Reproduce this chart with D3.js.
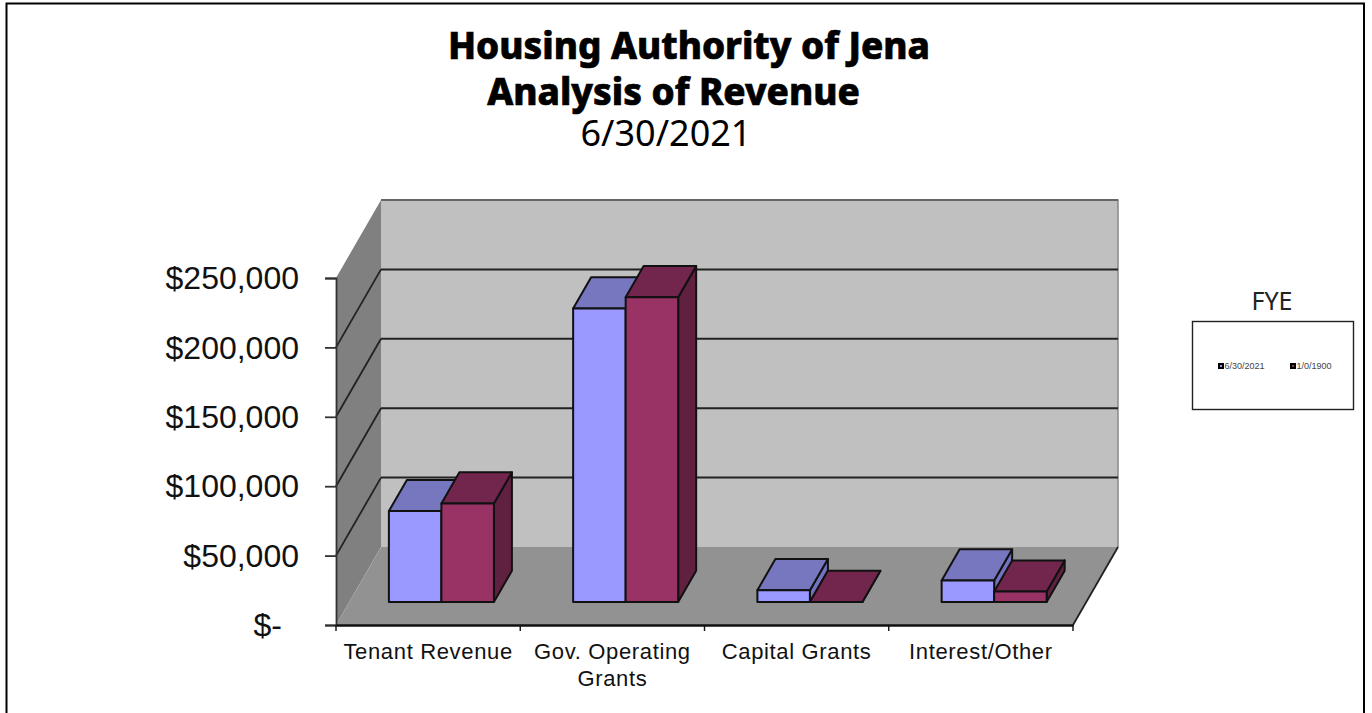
<!DOCTYPE html>
<html>
<head>
<meta charset="utf-8">
<script src="https://d3js.org/d3.v7.min.js"></script>
<style>
  body { margin: 0; background: #fff; }
  svg { display: block; }
  .title { font-family: "Noto Sans", sans-serif; text-anchor: middle; fill: #000; }
  .axis text { font-family: "Liberation Sans", Arial, sans-serif; fill: #111; }
</style>
</head>
<body>
<div id="chart"></div>
<script>
const categories = ['Tenant Revenue', 'Gov. Operating Grants', 'Capital Grants', 'Interest/Other'];
const seriesNames = ['6/30/2021', '1/0/1900'];
const fy2021 = [65500, 211500, 8500, 15500];
const fy1900 = [71000, 219500, 0, 7500];
const yTicks = [0, 50000, 100000, 150000, 200000, 250000];

const fronts = ['#9999ff', '#993366'];
const tops = ['#7777c0', '#73264d'];
const sides = ['#7272bf', '#60203f'];

const width = 1372, height = 713;
const plotLeft = 336, plotRight = 1073, plotBottom = 625, plotTop = 278;
// how far the back of the box is shifted from the front
const depthX = 45, depthY = -78;
const barFrom = 0.295, barTo = 0.695;

const svg = d3.select('#chart').append('svg')
    .attr('width', width)
    .attr('height', height);

// page border, there is none at the bottom
svg.append('path')
    .attr('d', 'M6.5,713V3.5H1364V713')
    .attr('fill', 'none')
    .attr('stroke', '#000')
    .attr('stroke-width', 2);

const xScale = d3.scaleBand().domain(categories).range([plotLeft, plotRight]);
const yScale = d3.scaleLinear().domain([0, 250000]).range([plotBottom, plotTop]);
const barScale = d3.scaleBand().domain(seriesNames)
    .range([xScale.bandwidth() * 0.215, xScale.bandwidth() * 0.785]);

const line = d3.line();
const poly = pts => line(pts) + 'Z';
const project = (x, y, d) => [x + depthX * d, y + depthY * d];

/* walls and floor ------------*/
const box = svg.append('g');
box.append('path')
    .attr('fill', '#c0c0c0')
    .attr('d', poly([project(plotLeft, plotTop, 1), project(plotRight, plotTop, 1), project(plotRight, plotBottom, 1), project(plotLeft, plotBottom, 1)]));
box.append('path')
    .attr('fill', '#808080')
    .attr('d', poly([project(plotLeft, plotTop, 0), project(plotLeft, plotTop, 1), project(plotLeft, plotBottom, 1), project(plotLeft, plotBottom, 0)]));
box.append('path')
    .attr('fill', '#929292')
    .attr('d', poly([project(plotLeft, plotBottom, 0), project(plotLeft, plotBottom, 1), project(plotRight, plotBottom, 1), project(plotRight, plotBottom, 0)]));
box.append('path')
    .attr('d', line([project(plotLeft, plotTop, 1), project(plotRight, plotTop, 1), project(plotRight, plotBottom, 1)]))
    .attr('fill', 'none')
    .attr('stroke', '#888')
    .attr('stroke-width', 1.5);

box.selectAll('.grid')
    .data(yTicks.slice(1))
    .join('path')
    .attr('class', 'grid')
    .attr('fill', 'none')
    .attr('stroke', d => d === 250000 ? '#666' : '#222')
    .attr('stroke-width', 2)
    .attr('d', d => line([project(plotLeft, yScale(d), 1), project(plotRight, yScale(d), 1)]));
box.selectAll('.diag')
    .data(yTicks.slice(1, -1))
    .join('path')
    .attr('class', 'diag')
    .attr('fill', 'none')
    .attr('stroke', '#222')
    .attr('stroke-width', 1.8)
    .attr('d', d => line([project(plotLeft, yScale(d), 0), project(plotLeft, yScale(d), 1)]));
box.append('path')
    .attr('d', line([project(plotRight, plotBottom, 0), project(plotRight, plotBottom, 1)]))
    .attr('fill', 'none')
    .attr('stroke', '#222')
    .attr('stroke-width', 1.8);

/* bars ------------*/
const barData = [];
categories.forEach((c, i) => {
    barData.push({ cat: c, s: 0, value: fy2021[i] });
    barData.push({ cat: c, s: 1, value: fy1900[i] });
});

const bars = svg.append('g')
    .attr('stroke', '#111')
    .attr('stroke-width', 2)
    .attr('stroke-linejoin', 'round')
    .selectAll('g')
    .data(barData)
    .join('g');

const bx0 = d => xScale(d.cat) + barScale(seriesNames[d.s]);
const bx1 = d => bx0(d) + barScale.bandwidth();

bars.append('path')
    .attr('fill', d => sides[d.s])
    .attr('d', d => poly([
        project(bx1(d), yScale(d.value), barFrom),
        project(bx1(d), yScale(d.value), barTo),
        project(bx1(d), yScale(0), barTo),
        project(bx1(d), yScale(0), barFrom)]));
bars.append('path')
    .attr('fill', d => tops[d.s])
    .attr('d', d => poly([
        project(bx0(d), yScale(d.value), barFrom),
        project(bx0(d), yScale(d.value), barTo),
        project(bx1(d), yScale(d.value), barTo),
        project(bx1(d), yScale(d.value), barFrom)]));
bars.append('path')
    .attr('fill', d => fronts[d.s])
    .attr('d', d => poly([
        project(bx0(d), yScale(d.value), barFrom),
        project(bx1(d), yScale(d.value), barFrom),
        project(bx1(d), yScale(0), barFrom),
        project(bx0(d), yScale(0), barFrom)]));

/* axes ------------*/
const money = d3.format(',');
const yAxis = d3.axisLeft(yScale)
    .tickValues(yTicks)
    .tickSize(11)
    .tickPadding(26)
    .tickFormat(d => d === 0 ? '$-' : '$' + money(d));
const yG = svg.append('g')
    .attr('class', 'axis')
    .attr('transform', `translate(${plotLeft},0)`)
    .call(yAxis);
yG.selectAll('text')
    .attr('font-size', 32)
    .attr('fill', '#111')
    .attr('y', 0.5)
    .attr('dx', d => d === 0 ? -17 : 0); // the zero label stands further left
yG.selectAll('line, path').attr('stroke', '#333').attr('stroke-width', 1.8);

const xAxis = d3.axisBottom(xScale)
    .tickSize(0)
    .tickPadding(0);
const xG = svg.append('g')
    .attr('class', 'axis')
    .attr('transform', `translate(0,${plotBottom})`)
    .call(xAxis);
xG.select('.domain').attr('stroke', '#111').attr('stroke-width', 2.6);
xG.selectAll('.tick line').remove();

// the ticks sit between the categories, not under them
xG.selectAll('.sep')
    .data(d3.range(categories.length + 1))
    .join('line')
    .attr('class', 'sep')
    .attr('x1', i => plotLeft + xScale.step() * i)
    .attr('x2', i => plotLeft + xScale.step() * i)
    .attr('y1', 0)
    .attr('y2', 6)
    .attr('stroke', '#111')
    .attr('stroke-width', 1.4);

xG.selectAll('.tick text')
    .attr('font-size', 22)
    .attr('letter-spacing', 0.65)
    .attr('y', 0)
    .attr('dy', 0)
    .each(function(d){
        const lines = d === 'Gov. Operating Grants' ? ['Gov. Operating', 'Grants'] : [d];
        const t = d3.select(this).text(null);
        lines.forEach((l, i) => {
            t.append('tspan').attr('x', 0).attr('y', 34 + i * 27).text(l);
        });
    });

/* titles ------------*/
const titleLines = [
    { text: 'Housing Authority of Jena', x: 689, y: 59, weight: 800, size: 36.8 },
    { text: 'Analysis of Revenue', x: 673.5, y: 105, weight: 800, size: 36.8 },
    { text: '6/30/2021', x: 666, y: 146, weight: 400, size: 36 }
];
svg.selectAll('.title')
    .data(titleLines)
    .join('text')
    .attr('class', 'title')
    .attr('x', d => d.x)
    .attr('y', d => d.y)
    .attr('font-size', d => d.size)
    .attr('font-weight', d => d.weight)
    .attr('stroke', '#000')
    .attr('stroke-width', d => d.weight > 400 ? 0.7 : 0)
    .text(d => d.text);

/* legend ------------*/
svg.append('text')
    .attr('class', 'legend-title')
    .attr('font-family', '"Noto Sans", sans-serif')
    .attr('text-anchor', 'middle')
    .attr('x', 1272)
    .attr('y', 310)
    .attr('font-size', 25)
    .attr('fill', '#222')
    .text('FYE');
svg.append('rect')
    .attr('x', 1192.5)
    .attr('y', 321.5)
    .attr('width', 161)
    .attr('height', 88)
    .attr('fill', '#fff')
    .attr('stroke', '#222')
    .attr('stroke-width', 1.4);

const legend = svg.selectAll('.legend')
    .data(seriesNames)
    .join('g')
    .attr('class', 'legend')
    .attr('transform', (d, i) => `translate(${1218 + i * 72},366)`);
legend.append('rect')
    .attr('x', 1)
    .attr('y', -2)
    .attr('width', 4)
    .attr('height', 4)
    .attr('fill', (d, i) => fronts[i])
    .attr('stroke', '#000')
    .attr('stroke-width', 2);
legend.append('text')
    .attr('x', 6.5)
    .attr('y', 3)
    .attr('font-family', '"Liberation Sans", Arial, sans-serif')
    .attr('font-size', 9)
    .attr('fill', '#444')
    .text(d => d);
</script>
</body>
</html>
